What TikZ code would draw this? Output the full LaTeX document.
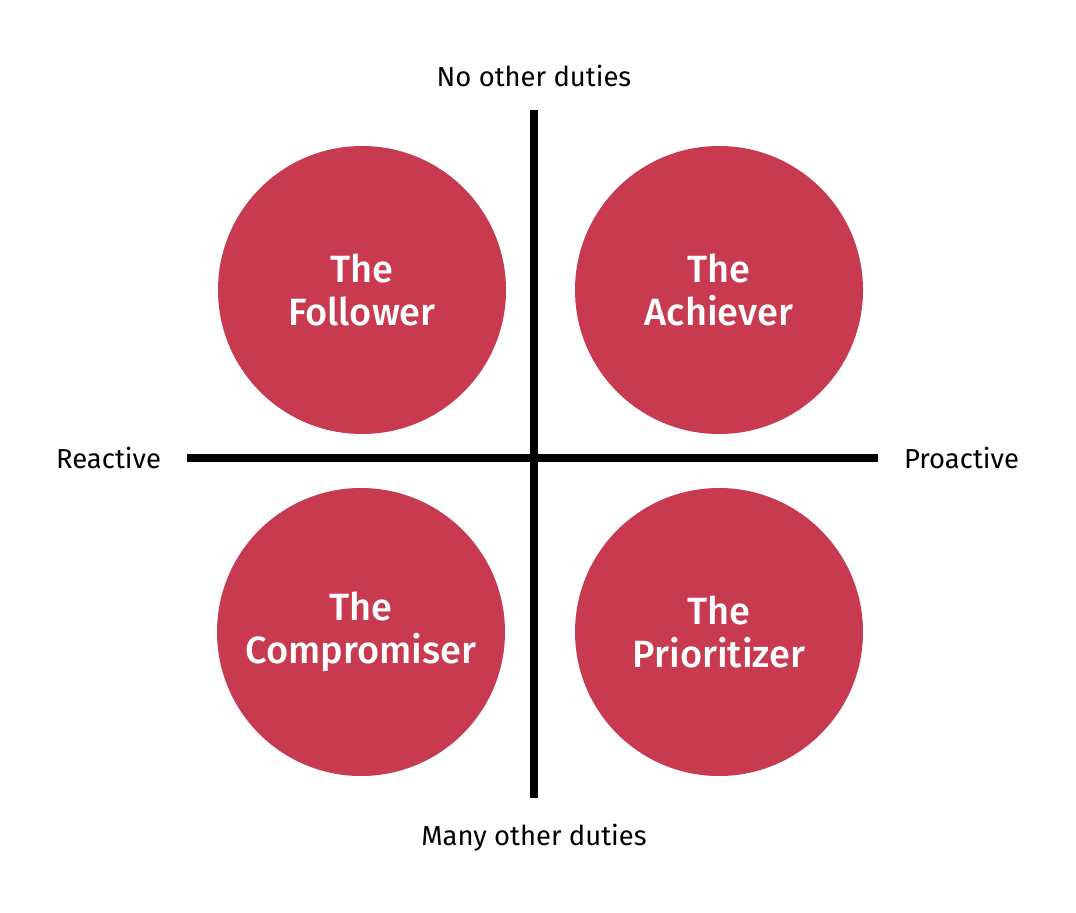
\documentclass[tikz,border=0pt]{standalone}
\usepackage{fontspec}
\setmainfont{Fira Sans}
\newfontfamily\typefont{Fira Sans}[UprightFont=* Medium]
\usepackage{tikz}
\usetikzlibrary{positioning}
\definecolor{typered}{HTML}{C73A50}

\begin{document}
\begin{tikzpicture}[
    x=0.025cm, y=-0.025cm,
    axis/.style={line width=5pt, black},
    type/.style={circle, fill=typered, minimum size=288*0.025cm, inner sep=0pt,
        text=white, align=center, font=\fontsize{27}{31}\selectfont\typefont},
    axislabel/.style={font=\fontsize{19.5}{21}\selectfont, text=black}
]
    \useasboundingbox (0,0) rectangle (1076,912);

    % axes
    \coordinate (top) at (534,110);
    \coordinate (bottom) at (534,798);
    \coordinate (left) at (187,458);
    \coordinate (right) at (878,458);
    \draw[axis] (top) -- (bottom);
    \draw[axis] (left) -- (right);

    % axis labels
    \node[axislabel, above=13pt of top] (noduties) {No other duties};
    \node[axislabel, below=15pt of bottom] (manyduties) {Many other duties};
    \node[axislabel, left=15pt of left] (reactive) {Reactive};
    \node[axislabel, right=15pt of right] (proactive) {Proactive};

    % quadrants
    \node[type] (follower) at (362,290) {The\\Follower};
    \node[type] (achiever) at (719,290) {The\\Achiever};
    \node[type] (compromiser) at (361,632) {The\\Compromiser};
    \node[type] (prioritizer) at (719,632) {The\\Prioritizer};
\end{tikzpicture}
\end{document}
